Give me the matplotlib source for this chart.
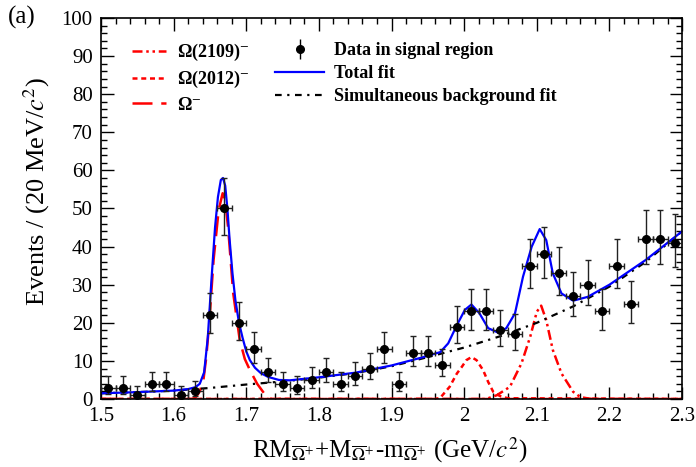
import matplotlib.pyplot as plt
import numpy as np
from matplotlib.ticker import MultipleLocator
from matplotlib.lines import Line2D

plt.rcParams['font.family'] = ['Liberation Serif', 'DejaVu Serif']
plt.rcParams['mathtext.fontset'] = 'stix'

# data in signal region (bin centres, 20 MeV bins)
bin_x = np.arange(1.51, 2.30, 0.02)
counts = [3, 3, 1, 4, 4, 1, 2, 22, 50, 20,
          13, 7, 4, 3, 5, 7, 4, 6, 8, 13,
          4, 12, 12, 9, 19, 23, 23, 18, 17, 35,
          38, 33, 27, 30, 23, 35, 25, 42, 42, 41]

# total fit
tot_x = [1.500, 1.550, 1.600, 1.620, 1.630, 1.636, 1.642, 1.647, 1.652, 1.657,
         1.661, 1.665, 1.668, 1.671, 1.674, 1.677, 1.681, 1.685, 1.690, 1.695,
         1.700, 1.705, 1.712, 1.720, 1.730, 1.745, 1.760, 1.800, 1.850, 1.900,
         1.940, 1.967, 1.978, 1.990, 2.001, 2.010, 2.021, 2.033, 2.047, 2.058,
         2.070, 2.081, 2.093, 2.104, 2.113, 2.122, 2.134, 2.150, 2.170, 2.200,
         2.250, 2.300]
tot_y = [1.5, 1.8, 2.2, 2.6, 3.1, 4.0, 7.0, 16, 31, 45,
         53, 57.5, 58, 56, 50, 42, 33, 26, 20, 16,
         12.5, 10.2, 8.2, 6.8, 5.8, 5.0, 4.9, 5.7, 6.9, 8.8,
         10.8, 12.3, 14.6, 19.4, 23.4, 24.8, 22.5, 18.6, 17.4, 18.6,
         22.5, 32.1, 40, 44.6, 41.7, 33, 27.7, 25.8, 26.8, 30,
         36.5, 44]

# simultaneous background fit
bkg_x = [1.50, 1.55, 1.60, 1.65, 1.70, 1.75, 1.80, 1.85, 1.90, 1.95,
         2.00, 2.05, 2.10, 2.15, 2.20, 2.25, 2.30]
bkg_y = [1.5, 1.8, 2.2, 2.9, 3.8, 4.6, 5.6, 6.8, 8.6, 11,
         13.5, 16.5, 20, 24.3, 29.5, 36, 44]

# Omega- signal
om_x = [1.500, 1.625, 1.630, 1.636, 1.641, 1.645, 1.649, 1.655, 1.662, 1.6675,
        1.671, 1.675, 1.682, 1.691, 1.698, 1.705, 1.715, 1.728, 1.735, 2.300]
om_y = [0, 0, 0.3, 2, 5, 11, 20, 36.5, 49.6, 54,
        52, 45, 27.8, 15.5, 10.5, 7.6, 4, 0.6, 0, 0]

# Omega(2012)-
o12_x = [1.500, 1.960, 1.967, 1.980, 1.990, 1.997, 2.003, 2.010, 2.017, 2.026,
         2.033, 2.040, 2.049, 2.060, 2.300]
o12_y = [0, 0, 0.3, 3.2, 6.7, 8.5, 10.2, 11, 10.2, 7.6,
         4.5, 1.9, 0.8, 0.2, 0]

# Omega(2109)-
o09_x = [1.500, 2.030, 2.045, 2.063, 2.079, 2.091, 2.100, 2.106, 2.113, 2.122,
         2.134, 2.150, 2.160, 2.175, 2.300]
o09_y = [0, 0, 1, 3.2, 9.4, 16.4, 22.9, 24.5, 20.7, 12.9,
         6.7, 1.9, 0.5, 0, 0]

n = np.array(counts, dtype=float)
err_up = 1 + np.sqrt(n + 0.75)
err_lo = np.sqrt(n - 0.25)

fig = plt.figure(figsize=(6.96, 4.67), dpi=100)
ax = fig.add_axes([0.1451, 0.1456, 0.8349, 0.8159])

l_om, = ax.plot(om_x, om_y, color='red', lw=1.8, dashes=(8, 3.5))
l_12, = ax.plot(o12_x, o12_y, color='red', lw=1.8, dashes=(2, 1.5))
l_09, = ax.plot(o09_x, o09_y, color='red', lw=1.8, dashes=(4, 1.5, 1, 1.5, 1, 1.5))
l_bk, = ax.plot(bkg_x, bkg_y, color='black', lw=1.6, dashes=(3, 2.5, 1, 2.5))
l_tot, = ax.plot(tot_x, tot_y, color='blue', lw=1.6)
ax.errorbar(bin_x, counts, xerr=0.01, yerr=[err_lo, err_up], fmt='o', color='black',
            ecolor='#222222', ms=5.5, elinewidth=1.0, capsize=2, capthick=1.0, zorder=5)

ax.set_xlim(1.5, 2.3)
ax.set_ylim(0, 100)
ax.xaxis.set_minor_locator(MultipleLocator(0.02))
ax.yaxis.set_major_locator(MultipleLocator(10))
ax.yaxis.set_minor_locator(MultipleLocator(2))
ax.set_xticks(np.arange(1.5, 2.31, 0.1))
ax.set_xticklabels(['1.5', '1.6', '1.7', '1.8', '1.9', '2', '2.1', '2.2', '2.3'])
ax.tick_params(which='both', direction='in', top=True, right=True, labelsize=15)
ax.tick_params(which='major', length=9, width=1)
ax.tick_params(which='minor', length=4.5, width=1)
ax.tick_params(axis='x', pad=6)
ax.tick_params(axis='y', pad=6)
for s in ax.spines.values():
    s.set_linewidth(1.2)

ax.set_xlabel(r'RM$_{\overline{\Omega}^{+}}$+M$_{\overline{\Omega}^{+}}$-m$_{\overline{\Omega}^{+}}$ (GeV/$c^{2}$)',
              fontsize=18)
ax.set_ylabel(r'Events / (20 MeV/$c^{2}$)', fontsize=19)
ax.xaxis.set_label_coords(0.497, -0.095)
ax.yaxis.set_label_coords(-0.085, 0.545)

fig.text(0.012, 0.962, '(a)', fontsize=18, va='center')

data_bar = Line2D([], [], color='black', marker='|', ms=14, mew=1.0, ls='none')
data_dot = Line2D([], [], color='black', marker='o', ms=5.5, ls='none')
leg1 = ax.legend([l_09, l_12, l_om],
                 ['Ω(2109)$^{-}$', 'Ω(2012)$^{-}$', 'Ω$^{-}$'],
                 loc='upper left', bbox_to_anchor=(0.025, 0.98), frameon=False,
                 handlelength=1.9, handletextpad=0.6, labelspacing=0.35,
                 prop={'weight': 'bold', 'size': 13})
ax.add_artist(leg1)
ax.legend([(data_bar, data_dot), l_tot, l_bk],
          ['Data in signal region', 'Total fit', 'Simultaneous background fit'],
          loc='upper left', bbox_to_anchor=(0.272, 0.98), frameon=False,
          handlelength=2.7, handletextpad=0.55, labelspacing=0.35,
          prop={'weight': 'bold', 'size': 13})

fig.savefig('out.png', dpi=100)
